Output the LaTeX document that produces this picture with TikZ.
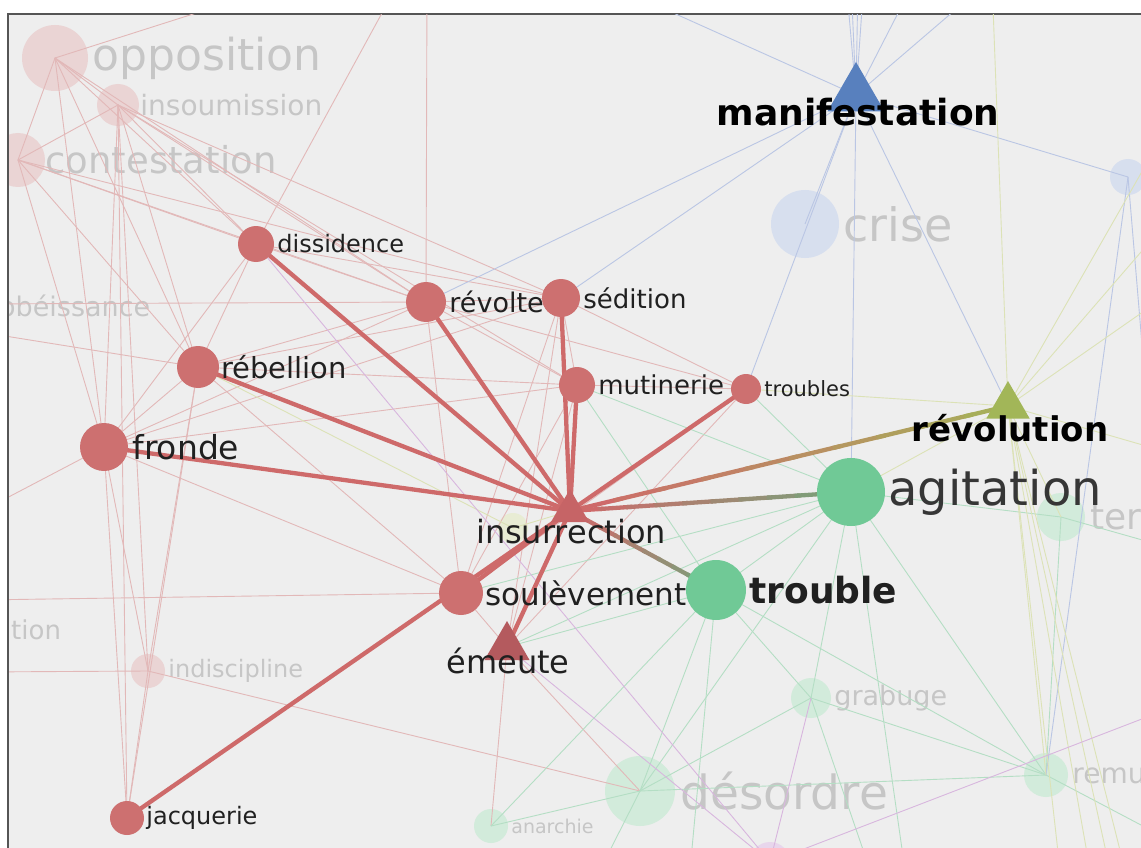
\documentclass[tikz,border=0pt]{standalone}
\usepackage{fontspec}
\setmainfont{DejaVu Sans}
\usetikzlibrary{positioning,shapes.geometric,calc}
\definecolor{bggrey}{RGB}{238,238,238}
\definecolor{framegrey}{RGB}{85,85,85}
\definecolor{nodered}{RGB}{205,112,112}
\definecolor{edgered}{RGB}{206,106,106}
\definecolor{trired}{RGB}{198,100,102}
\definecolor{emered}{RGB}{180,90,94}
\definecolor{nodegreen}{RGB}{112,201,150}
\definecolor{edgegreen}{RGB}{110,168,124}
\definecolor{manblue}{RGB}{88,128,190}
\definecolor{revolive}{RGB}{162,182,88}
\definecolor{fadered}{RGB}{234,212,212}
\definecolor{fadegreen}{RGB}{210,235,219}
\definecolor{fadeblue}{RGB}{215,223,238}
\definecolor{fadeyellow}{RGB}{232,236,212}
\definecolor{fadepurple}{RGB}{232,214,236}
\definecolor{linered}{RGB}{226,184,184}
\definecolor{linegreen}{RGB}{180,222,196}
\definecolor{lineblue}{RGB}{186,198,228}
\definecolor{lineolive}{RGB}{220,226,182}
\definecolor{linepurple}{RGB}{216,182,222}
\definecolor{fadetext}{RGB}{198,198,198}
\definecolor{darktext}{RGB}{32,32,32}
\pgfdeclarelayer{back}
\pgfsetlayers{back,main}
\newcommand\fs[1]{\fontsize{#1}{#1}\selectfont}
\begin{document}
\begin{tikzpicture}[x=1pt,y=-1pt]
\tikzstyle{rdot}=[circle,inner sep=0pt,fill=nodered]
\tikzstyle{ghost}=[circle,inner sep=0pt,fill=fadered]
\tikzstyle{tri}=[regular polygon,regular polygon sides=3,inner sep=0pt]
\tikzstyle{lbl}=[inner sep=0pt,text=darktext]
\tikzstyle{glbl}=[inner sep=0pt,text=fadetext]
\tikzstyle{thickedge}=[edgered,line width=4.3pt]
\tikzstyle{fe}=[line width=0.9pt]
\useasboundingbox (0,0) rectangle (1141,848);
% words around insurrection
\node[rdot,minimum size=36pt] (dis) at (256,244) {};
\node[lbl,font=\fs{24},right=3pt of dis] {dissidence};
\node[rdot,minimum size=40pt] (rvt) at (426,302) {};
\node[lbl,font=\fs{27},right=3pt of rvt] {révolte};
\node[rdot,minimum size=38pt] (sed) at (561,298) {};
\node[lbl,font=\fs{26},right=3pt of sed] {sédition};
\node[rdot,minimum size=42pt] (reb) at (198,367) {};
\node[lbl,font=\fs{29},right=2pt of reb] {rébellion};
\node[rdot,minimum size=36pt] (mut) at (577,385) {};
\node[lbl,font=\fs{26},right=3pt of mut] {mutinerie};
\node[rdot,minimum size=30pt] (tbs) at (746,389) {};
\node[lbl,font=\fs{21},right=3pt of tbs] {troubles};
\node[rdot,minimum size=48pt] (fro) at (104,447) {};
\node[lbl,font=\fs{33},right=4pt of fro] {fronde};
\node[tri,fill=trired,minimum size=44pt] (ins) at (570,511) {};
\node[lbl,font=\fs{32}] at (571,532) {insurrection};
\node[rdot,fill=nodegreen,minimum size=60pt] (tro) at (716,590) {};
\node[lbl,font=\bfseries\fs{36},right=3pt of tro] {trouble};
\node[rdot,minimum size=44pt] (sou) at (461,593) {};
\node[lbl,font=\fs{31},right=2pt of sou] {soulèvement};
\node[tri,fill=emered,minimum size=52pt] (eme) at (507,647) {};
\node[lbl,font=\fs{32}] at (508,661) {émeute};
\node[rdot,minimum size=34pt] (jac) at (127,818) {};
\node[lbl,font=\fs{24},right=2pt of jac] {jacquerie};
\node[rdot,fill=nodegreen,minimum size=68pt] (agi) at (851,492) {};
\node[lbl,font=\fs{48},text=darktext!90!white,right=3pt of agi] {agitation};
\node[tri,fill=manblue,minimum size=66pt] (man) at (856,95) {};
\node[lbl,font=\bfseries\fs{36},text=black] at (858,112) {manifestation};
\node[tri,fill=revolive,minimum size=50pt] (rev) at (1008,406) {};
\node[lbl,font=\bfseries\fs{34},text=black] at (1010,428) {révolution};

\begin{pgfonlayer}{back}
\fill[white] (0,0) rectangle (1141,848);
\fill[framegrey] (7,13) rectangle (1141,848);
\fill[bggrey] (9,15) rectangle (1141,848);
\clip (9,15) rectangle (1141,848);
% faded words
\node[ghost,minimum size=66pt] (opp) at (55,58) {};
\node[glbl,font=\fs{44},right=4pt of opp] {opposition};
\node[ghost,minimum size=42pt] (isu) at (118,105) {};
\node[glbl,font=\fs{28},right=1pt of isu] {insoumission};
\node[ghost,minimum size=54pt] (con) at (18,160) {};
\node[glbl,font=\fs{37},right=0pt of con] {contestation};
\node[glbl,font=\fs{27},anchor=west] at (-1,306) {obéissance};
\node[glbl,font=\fs{26},anchor=west] at (11,630) {tion};
\node[ghost,minimum size=34pt] (ind) at (148,671) {};
\node[glbl,font=\fs{24},right=3pt of ind] {indiscipline};
\node[ghost,fill=fadegreen,minimum size=34pt] (ana) at (491,826) {};
\node[glbl,font=\fs{19},right=3pt of ana] {anarchie};
\node[ghost,fill=fadegreen,minimum size=70pt] (des) at (640,791) {};
\node[glbl,font=\fs{47},right=5pt of des] {désordre};
\node[ghost,fill=fadegreen,minimum size=40pt] (gra) at (811,698) {};
\node[glbl,font=\fs{27},right=3pt of gra] {grabuge};
\node[ghost,fill=fadegreen,minimum size=44pt] (rem) at (1046,775) {};
\node[glbl,font=\fs{28},right=4pt of rem] {remue-ménage};
\node[ghost,fill=fadegreen,minimum size=48pt] (ter) at (1061,517) {};
\node[glbl,font=\fs{36},right=5pt of ter] {terreur};
\node[ghost,fill=fadeblue,minimum size=68pt] (cri) at (805,224) {};
\node[glbl,font=\fs{46},right=4pt of cri] {crise};
\node[ghost,fill=fadeblue,minimum size=36pt] (blr) at (1128,177) {};
\node[ghost,fill=fadeyellow,minimum size=30pt] (ylw) at (513,528) {};
\node[ghost,fill=fadepurple,minimum size=40pt] (pur) at (770,862) {};
% free ends outside the frame
\coordinate (o1) at (300,-20); \coordinate (o2) at (400,-20); \coordinate (o3) at (427,-20);
\coordinate (oL1) at (-20,332); \coordinate (oL2) at (-20,512); \coordinate (oL4) at (-20,600);
\coordinate (oL5) at (-20,672); \coordinate (oL6) at (-20,304);
\coordinate (m1) at (846,-20); \coordinate (m2) at (851,-20); \coordinate (m3) at (858,-20);
\coordinate (m4) at (864,-20); \coordinate (m5) at (915,-20); \coordinate (m6) at (990,-20);
\coordinate (m7) at (600,-20);
\coordinate (r1) at (992,-20); \coordinate (r2) at (1160,140); \coordinate (r3) at (1160,230);
\coordinate (r4) at (1160,300); \coordinate (r5) at (1160,450); \coordinate (r6) at (1090,870);
\coordinate (r7) at (1110,870); \coordinate (r8) at (1125,870); \coordinate (r9) at (1060,870);
\coordinate (a1) at (905,870); \coordinate (a2) at (870,870); \coordinate (t1) at (690,870);
\coordinate (t2) at (600,870); \coordinate (oR1) at (1160,545); \coordinate (oR2) at (1160,835);
\coordinate (oR3) at (1160,560); \coordinate (p1) at (1160,712);
% faint edges
\foreach \a/\b in {opp/isu,opp/con,opp/o1,opp/dis,opp/reb,opp/fro,opp/rvt,
  isu/con,isu/dis,isu/rvt,isu/sed,isu/reb,isu/fro,isu/mut,isu/ind,isu/jac,
  con/dis,con/rvt,con/reb,con/fro,con/sed,
  dis/rvt,dis/sed,dis/reb,dis/fro,dis/o2,
  rvt/sed,rvt/mut,rvt/reb,rvt/fro,rvt/o3,rvt/sou,rvt/tbs,rvt/oL6,
  sed/mut,sed/tbs,sed/reb,sed/fro,sed/sou,sed/eme,
  mut/tbs,mut/reb,mut/fro,mut/sou,mut/eme,tbs/eme,tbs/sou,
  reb/fro,reb/sou,reb/jac,reb/ind,reb/oL1,
  fro/ind,fro/jac,fro/sou,fro/oL2,
  sou/oL4,sou/eme,ind/jac,ind/oL5,ind/des,eme/des,eme/ana}
  \draw[fe,linered] (\a.center) -- (\b.center);
\foreach \a/\b in {agi/tro,agi/gra,agi/des,agi/rem,agi/ter,agi/a1,agi/sou,agi/eme,agi/mut,agi/tbs,
  tro/gra,tro/des,tro/ana,tro/t1,tro/eme,tro/mut,tro/rem,
  gra/des,gra/rem,gra/a2,des/ana,des/rem,des/t2,rem/ter,rem/oR2,ter/oR1}
  \draw[fe,linegreen] (\a.center) -- (\b.center);
\foreach \a/\b in {man/cri,man/tbs,man/agi,man/rev,man/blr,man/rvt,man/sed,
  man/m1,man/m2,man/m3,man/m4,man/m5,man/m6,man/m7,blr/rem,blr/oR3}
  \draw[fe,lineblue] (\a.center) -- (\b.center);
\foreach \a/\b in {rev/r1,rev/r2,rev/r3,rev/r4,rev/r5,rev/r6,rev/r7,rev/r8,rev/r9,
  rev/agi,rev/ter,rev/tbs,rev/rem,ylw/ins,ylw/reb}
  \draw[fe,lineolive] (\a.center) -- (\b.center);
\foreach \a/\b in {pur/gra,pur/p1,pur/dis,pur/eme}
  \draw[fe,linepurple] (\a.center) -- (\b.center);
% strong edges of insurrection
\foreach \a in {dis,rvt,sed,mut,tbs,reb,fro,sou,eme,jac}
  \draw[thickedge] (ins.center) -- (\a.center);
\foreach \k [evaluate=\k as \p using int(100-10*\k),evaluate=\k as \s using \k/10,
  evaluate=\k as \e using (\k+1.2)/10] in {0,...,9}{
  \draw[line width=4.3pt,edgered!\p!revolive] ($(ins.center)!\s!(rev.center)$) -- ($(ins.center)!\e!(rev.center)$);
  \draw[line width=4.3pt,edgered!\p!edgegreen] ($(ins.center)!\s!(agi.center)$) -- ($(ins.center)!\e!(agi.center)$);
  \draw[line width=4.3pt,edgered!\p!edgegreen] ($(ins.center)!\s!(tro.center)$) -- ($(ins.center)!\e!(tro.center)$);
}
\end{pgfonlayer}
\end{tikzpicture}
\end{document}
